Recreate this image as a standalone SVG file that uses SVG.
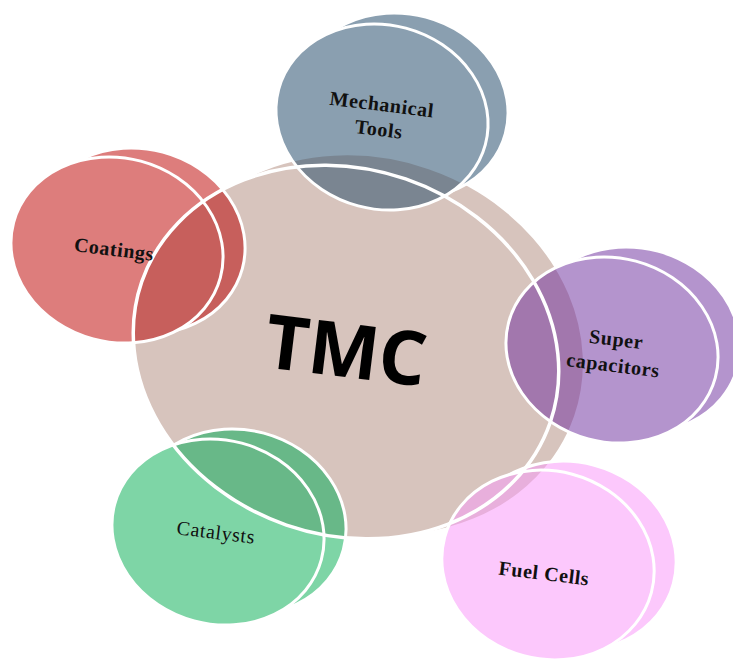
<svg xmlns="http://www.w3.org/2000/svg" xmlns:xlink="http://www.w3.org/1999/xlink" width="733" height="660" viewBox="0 0 733 660">
<style>
  .ring{fill:none;stroke:#ffffff;stroke-width:3}
  .lbl{font-family:"Liberation Serif","Times New Roman",serif;font-size:20px;font-weight:bold;letter-spacing:0.6px;fill:#111111;text-anchor:middle}
  .lbl-r{font-weight:normal}
  .tmc-txt{font-family:"Open Sans","Liberation Sans",sans-serif;font-size:75px;font-weight:bold;fill:#000000;text-anchor:middle}
  .mech{fill:#8a9fb0}.mech-o{fill:#7a8591}
  .coat{fill:#dd7d7c}.coat-o{fill:#c75f5c}
  .sup{fill:#b494cd}.sup-o{fill:#a277ad}
  .cat{fill:#7ed5a6}.cat-o{fill:#68b888}
  .fuel{fill:#fcc8fc}.fuel-o{fill:#e8afdc}
  .tmc{fill:#d7c4bd}
</style>
<defs>
  <ellipse id="tmc-front" cx="346" cy="352" rx="216" ry="183" transform="rotate(19 346 352)"/>
  <ellipse id="tmc-back" cx="368" cy="345" rx="218" ry="186" transform="rotate(19 368 345)"/>
  <clipPath id="tmc-clip">
    <use xlink:href="#tmc-front"/>
    <use xlink:href="#tmc-back"/>
  </clipPath>
  <ellipse id="mech-b" cx="402" cy="106" rx="107" ry="92" transform="rotate(15 402 106)"/>
  <ellipse id="mech-f" cx="382" cy="117" rx="107" ry="92" transform="rotate(15 382 117)"/>
  <ellipse id="coat-b" cx="139" cy="241" rx="107" ry="92" transform="rotate(15 139 241)"/>
  <ellipse id="coat-f" cx="117" cy="250" rx="107" ry="92" transform="rotate(15 117 250)"/>
  <ellipse id="sup-b" cx="634" cy="340" rx="107" ry="92" transform="rotate(15 634 340)"/>
  <ellipse id="sup-f" cx="612" cy="350" rx="107" ry="92" transform="rotate(15 612 350)"/>
  <ellipse id="cat-b" cx="240" cy="522" rx="107" ry="92" transform="rotate(15 240 522)"/>
  <ellipse id="cat-f" cx="218" cy="532" rx="107" ry="92" transform="rotate(15 218 532)"/>
  <ellipse id="fuel-b" cx="570" cy="556" rx="107" ry="94" transform="rotate(15 570 556)"/>
  <ellipse id="fuel-f" cx="548" cy="565" rx="107" ry="94" transform="rotate(15 548 565)"/>
</defs>

<g id="node-tmc">
  <use xlink:href="#tmc-back" class="tmc"/>
  <use xlink:href="#tmc-front" class="tmc"/>
  <text class="tmc-txt" x="346" y="377" transform="rotate(7 346 352)">TMC</text>
</g>

<g id="node-mechanical-tools">
  <use xlink:href="#mech-b" class="mech"/>
  <use xlink:href="#mech-b" class="mech-o" clip-path="url(#tmc-clip)"/>
  <use xlink:href="#mech-b" class="ring"/>
  <use xlink:href="#mech-f" class="mech"/>
  <use xlink:href="#mech-f" class="mech-o" clip-path="url(#tmc-clip)"/>
  <use xlink:href="#mech-f" class="ring"/>
  <g transform="rotate(7 380 120)">
    <text class="lbl" x="380" y="111">Mechanical</text>
    <text class="lbl" x="380" y="136">Tools</text>
  </g>
</g>

<g id="node-coatings">
  <use xlink:href="#coat-b" class="coat"/>
  <use xlink:href="#coat-b" class="coat-o" clip-path="url(#tmc-clip)"/>
  <use xlink:href="#coat-b" class="ring"/>
  <use xlink:href="#coat-f" class="coat"/>
  <use xlink:href="#coat-f" class="coat-o" clip-path="url(#tmc-clip)"/>
  <use xlink:href="#coat-f" class="ring"/>
</g>

<g id="node-supercapacitors">
  <use xlink:href="#sup-b" class="sup"/>
  <use xlink:href="#sup-b" class="sup-o" clip-path="url(#tmc-clip)"/>
  <use xlink:href="#sup-b" class="ring"/>
  <use xlink:href="#sup-f" class="sup"/>
  <use xlink:href="#sup-f" class="sup-o" clip-path="url(#tmc-clip)"/>
  <use xlink:href="#sup-f" class="ring"/>
  <g transform="rotate(7 615 358)">
    <text class="lbl" x="614" y="346">Super</text>
    <text class="lbl" x="614" y="372">capacitors</text>
  </g>
</g>

<g id="node-catalysts">
  <use xlink:href="#cat-b" class="cat"/>
  <use xlink:href="#cat-b" class="cat-o" clip-path="url(#tmc-clip)"/>
  <use xlink:href="#cat-b" class="ring"/>
  <use xlink:href="#cat-f" class="cat"/>
  <use xlink:href="#cat-f" class="cat-o" clip-path="url(#tmc-clip)"/>
  <use xlink:href="#cat-f" class="ring"/>
  <text class="lbl lbl-r" x="216" y="539" transform="rotate(7 216 532)">Catalysts</text>
</g>

<g id="node-fuel-cells">
  <use xlink:href="#fuel-b" class="fuel"/>
  <use xlink:href="#fuel-b" class="fuel-o" clip-path="url(#tmc-clip)"/>
  <use xlink:href="#fuel-b" class="ring"/>
  <use xlink:href="#fuel-f" class="fuel"/>
  <use xlink:href="#fuel-f" class="fuel-o" clip-path="url(#tmc-clip)"/>
  <use xlink:href="#fuel-f" class="ring"/>
  <text class="lbl" x="544" y="580" transform="rotate(7 544 574)">Fuel Cells</text>
</g>

<g id="connectors"></g>

<g id="tmc-outline">
  <use xlink:href="#tmc-front" class="ring" style="stroke-width:3.5"/>
</g>

<g id="node-coatings-label">
  <text class="lbl" x="114" y="256" transform="rotate(7 114 250)">Coatings</text>
</g>
</svg>
